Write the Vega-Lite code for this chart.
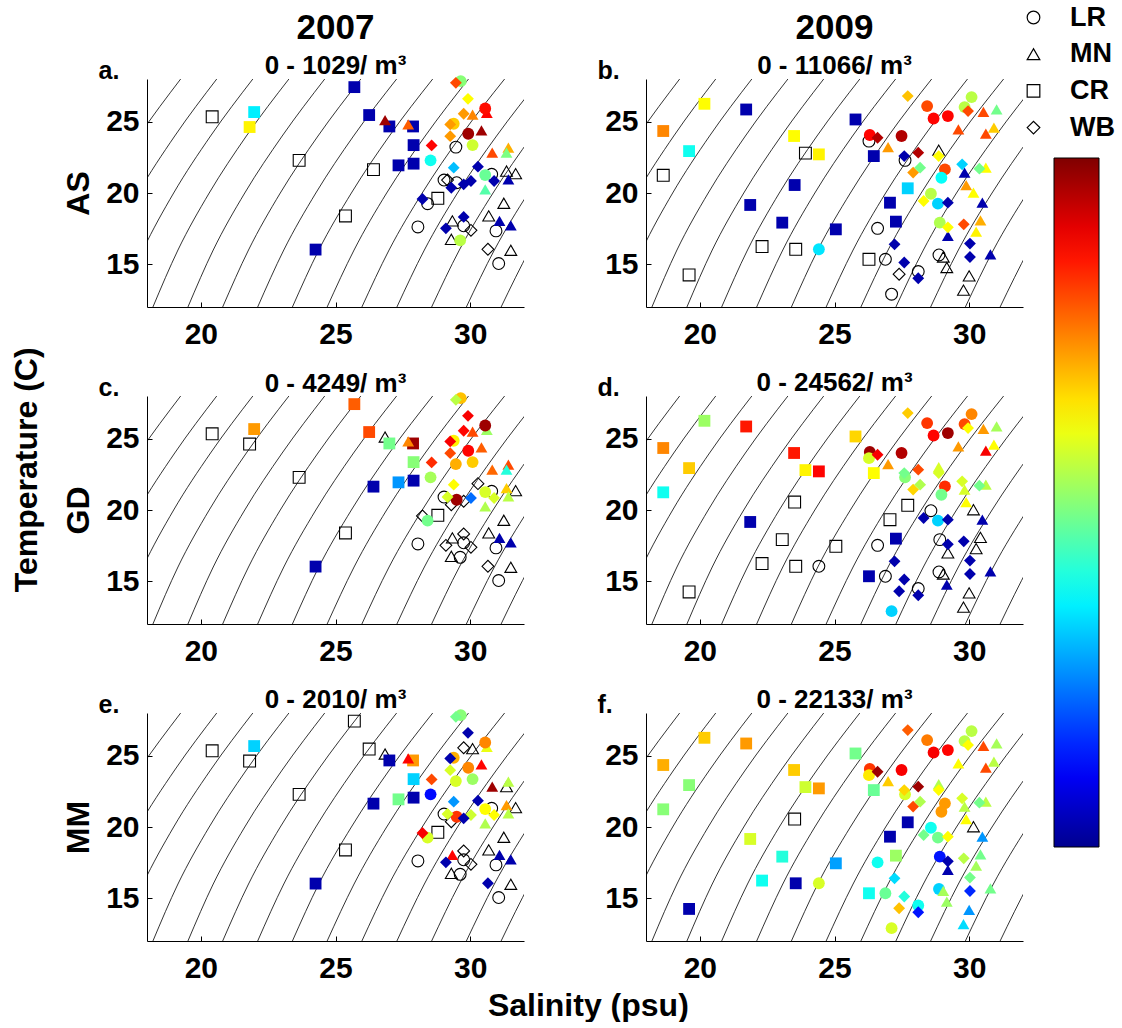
{
"$schema":"https://vega.github.io/schema/vega-lite/v6.json",
"background":"white",
"padding":{"left":11,"top":4,"right":0,"bottom":0},
"bounds":"flush",
"columns":2,
"spacing":{"row":89,"column":122},
"resolve":{"scale":{"color":"shared","shape":"shared"},"legend":{"color":"shared","shape":"shared"}},
"config":{
"font":"Liberation Sans",
"view":{"stroke":null},
"axis":{"grid":false,"labelFontSize":30,"labelFontWeight":"bold","labelColor":"black","domainColor":"black","domainWidth":1,"tickColor":"black","tickSize":-5,"tickWidth":1,"titleFontSize":32,"titleFontWeight":"bold","titleColor":"black","labelFlush":false,"labelOverlap":false},
"axisX":{"labelPadding":17},
"axisY":{"labelPadding":13,"titlePadding":10},
"title":{"fontSize":35,"fontWeight":"bold","color":"black","subtitleFontSize":26,"subtitleFontWeight":"bold","subtitleColor":"black","subtitlePadding":7,"offset":-19.5,"anchor":"middle","frame":"group"},
"legend":{"padding":0}
},
"datasets":{
"iso":[
{"lev":10.6,"S":14.34,"T":12},{"lev":10.6,"S":15.23,"T":16},{"lev":10.6,"S":16.35,"T":20},{"lev":10.6,"S":17.70,"T":24},{"lev":10.6,"S":19.25,"T":28},
{"lev":11.6,"S":15.63,"T":12},{"lev":11.6,"S":16.54,"T":16},{"lev":11.6,"S":17.67,"T":20},{"lev":11.6,"S":19.03,"T":24},{"lev":11.6,"S":20.59,"T":28},
{"lev":12.6,"S":16.93,"T":12},{"lev":12.6,"S":17.85,"T":16},{"lev":12.6,"S":18.99,"T":20},{"lev":12.6,"S":20.36,"T":24},{"lev":12.6,"S":21.93,"T":28},
{"lev":13.6,"S":18.22,"T":12},{"lev":13.6,"S":19.15,"T":16},{"lev":13.6,"S":20.31,"T":20},{"lev":13.6,"S":21.69,"T":24},{"lev":13.6,"S":23.27,"T":28},
{"lev":14.6,"S":19.52,"T":12},{"lev":14.6,"S":20.46,"T":16},{"lev":14.6,"S":21.63,"T":20},{"lev":14.6,"S":23.02,"T":24},{"lev":14.6,"S":24.60,"T":28},
{"lev":15.6,"S":20.81,"T":12},{"lev":15.6,"S":21.77,"T":16},{"lev":15.6,"S":22.95,"T":20},{"lev":15.6,"S":24.35,"T":24},{"lev":15.6,"S":25.94,"T":28},
{"lev":16.6,"S":22.11,"T":12},{"lev":16.6,"S":23.08,"T":16},{"lev":16.6,"S":24.27,"T":20},{"lev":16.6,"S":25.67,"T":24},{"lev":16.6,"S":27.27,"T":28},
{"lev":17.6,"S":23.40,"T":12},{"lev":17.6,"S":24.38,"T":16},{"lev":17.6,"S":25.59,"T":20},{"lev":17.6,"S":27.00,"T":24},{"lev":17.6,"S":28.61,"T":28},
{"lev":18.6,"S":24.69,"T":12},{"lev":18.6,"S":25.69,"T":16},{"lev":18.6,"S":26.90,"T":20},{"lev":18.6,"S":28.33,"T":24},{"lev":18.6,"S":29.94,"T":28},
{"lev":19.6,"S":25.98,"T":12},{"lev":19.6,"S":26.99,"T":16},{"lev":19.6,"S":28.22,"T":20},{"lev":19.6,"S":29.65,"T":24},{"lev":19.6,"S":31.28,"T":28},
{"lev":20.6,"S":27.28,"T":12},{"lev":20.6,"S":28.30,"T":16},{"lev":20.6,"S":29.53,"T":20},{"lev":20.6,"S":30.98,"T":24},{"lev":20.6,"S":32.61,"T":28},
{"lev":21.6,"S":28.57,"T":12},{"lev":21.6,"S":29.60,"T":16},{"lev":21.6,"S":30.85,"T":20},{"lev":21.6,"S":32.30,"T":24},{"lev":21.6,"S":33.94,"T":28},
{"lev":22.6,"S":29.86,"T":12},{"lev":22.6,"S":30.90,"T":16},{"lev":22.6,"S":32.16,"T":20},{"lev":22.6,"S":33.62,"T":24},{"lev":22.6,"S":35.27,"T":28},
{"lev":23.6,"S":31.15,"T":12},{"lev":23.6,"S":32.21,"T":16},{"lev":23.6,"S":33.47,"T":20},{"lev":23.6,"S":34.94,"T":24},{"lev":23.6,"S":36.60,"T":28}
],
"pts":[
{"yr":2007,"site":"CR","S":20.42,"T":25.35,"AS":0,"GD":0,"MM":0},
{"yr":2007,"site":"CR","S":21.98,"T":25.68,"AS":0.35,"GD":0.72,"MM":0.32},
{"yr":2007,"site":"CR","S":21.81,"T":24.63,"AS":0.63,"GD":0,"MM":0},
{"yr":2007,"site":"CR","S":23.65,"T":22.29,"AS":0,"GD":0,"MM":0},
{"yr":2007,"site":"CR","S":25.70,"T":27.43,"AS":0.03,"GD":0.78,"MM":0},
{"yr":2007,"site":"CR","S":26.25,"T":25.47,"AS":0.03,"GD":0.80,"MM":0},
{"yr":2007,"site":"CR","S":27.00,"T":24.67,"AS":0.03,"GD":0.48,"MM":0.03},
{"yr":2007,"site":"CR","S":27.88,"T":24.67,"AS":0.03,"GD":0.97,"MM":0.72},
{"yr":2007,"site":"CR","S":27.90,"T":23.36,"AS":0.03,"GD":0.50,"MM":0.32},
{"yr":2007,"site":"CR","S":26.41,"T":21.64,"AS":0,"GD":0.03,"MM":0.03},
{"yr":2007,"site":"CR","S":27.34,"T":21.94,"AS":0.03,"GD":0.26,"MM":0.48},
{"yr":2007,"site":"CR","S":27.90,"T":22.06,"AS":0.03,"GD":0.03,"MM":0.03},
{"yr":2007,"site":"CR","S":25.37,"T":18.39,"AS":0,"GD":0,"MM":0},
{"yr":2007,"site":"CR","S":24.26,"T":16.03,"AS":0.03,"GD":0.03,"MM":0.03},
{"yr":2007,"site":"CR","S":28.80,"T":19.63,"AS":0,"GD":0,"MM":0},
{"yr":2007,"site":"MN","S":26.84,"T":25.12,"AS":0.97,"GD":0,"MM":0},
{"yr":2007,"site":"MN","S":27.70,"T":24.81,"AS":0.78,"GD":0.74,"MM":0.87},
{"yr":2007,"site":"MN","S":30.62,"T":25.63,"AS":0.87,"GD":0.52,"MM":0.60},
{"yr":2007,"site":"MN","S":30.42,"T":24.39,"AS":0.97,"GD":0.78,"MM":0.87},
{"yr":2007,"site":"MN","S":30.82,"T":22.83,"AS":0.80,"GD":0.77,"MM":0.97},
{"yr":2007,"site":"MN","S":31.42,"T":23.18,"AS":0.70,"GD":0.80,"MM":0.55},
{"yr":2007,"site":"MN","S":31.35,"T":22.83,"AS":0.49,"GD":0.40,"MM":0},
{"yr":2007,"site":"MN","S":31.35,"T":21.54,"AS":0,"GD":0.67,"MM":0.72},
{"yr":2007,"site":"MN","S":31.69,"T":21.36,"AS":0,"GD":0,"MM":0},
{"yr":2007,"site":"MN","S":30.56,"T":20.26,"AS":0.45,"GD":0.54,"MM":0.54},
{"yr":2007,"site":"MN","S":31.42,"T":20.96,"AS":0.03,"GD":0.55,"MM":0.55},
{"yr":2007,"site":"MN","S":31.25,"T":19.28,"AS":0,"GD":0,"MM":0},
{"yr":2007,"site":"MN","S":30.69,"T":18.39,"AS":0,"GD":0,"MM":0},
{"yr":2007,"site":"MN","S":31.09,"T":18.04,"AS":0.03,"GD":0.03,"MM":0.03},
{"yr":2007,"site":"MN","S":31.51,"T":17.73,"AS":0.03,"GD":0.03,"MM":0.03},
{"yr":2007,"site":"MN","S":29.34,"T":18.04,"AS":0,"GD":0,"MM":0.87},
{"yr":2007,"site":"MN","S":29.30,"T":16.75,"AS":0,"GD":0,"MM":0},
{"yr":2007,"site":"MN","S":31.51,"T":15.98,"AS":0,"GD":0,"MM":0},
{"yr":2007,"site":"MN","S":30.09,"T":25.50,"AS":0.74,"GD":0.80,"MM":0},
{"yr":2007,"site":"LR","S":29.65,"T":27.85,"AS":0.50,"GD":0.68,"MM":0.50},
{"yr":2007,"site":"LR","S":30.56,"T":25.93,"AS":0.86,"GD":0.97,"MM":0.74},
{"yr":2007,"site":"LR","S":29.39,"T":24.86,"AS":0.67,"GD":0.63,"MM":0.70},
{"yr":2007,"site":"LR","S":29.93,"T":24.16,"AS":0.97,"GD":0.87,"MM":0.74},
{"yr":2007,"site":"LR","S":30.09,"T":23.36,"AS":0.57,"GD":0.67,"MM":0.52},
{"yr":2007,"site":"LR","S":29.47,"T":23.22,"AS":0,"GD":0.70,"MM":0.58},
{"yr":2007,"site":"LR","S":28.53,"T":22.29,"AS":0.38,"GD":0.53,"MM":0.12},
{"yr":2007,"site":"LR","S":30.56,"T":21.26,"AS":0.47,"GD":0.58,"MM":0.62},
{"yr":2007,"site":"LR","S":30.80,"T":21.31,"AS":0,"GD":0,"MM":0},
{"yr":2007,"site":"LR","S":29.03,"T":20.91,"AS":0,"GD":0,"MM":0},
{"yr":2007,"site":"LR","S":29.50,"T":20.72,"AS":0,"GD":0.97,"MM":0.82},
{"yr":2007,"site":"LR","S":28.42,"T":19.25,"AS":0,"GD":0.48,"MM":0.58},
{"yr":2007,"site":"LR","S":28.06,"T":17.62,"AS":0,"GD":0,"MM":0},
{"yr":2007,"site":"LR","S":29.63,"T":16.68,"AS":0.55,"GD":0,"MM":0},
{"yr":2007,"site":"LR","S":30.96,"T":17.34,"AS":0,"GD":0,"MM":0},
{"yr":2007,"site":"LR","S":31.06,"T":15.05,"AS":0,"GD":0,"MM":0},
{"yr":2007,"site":"LR","S":29.76,"T":17.70,"AS":0,"GD":0,"MM":0},
{"yr":2007,"site":"WB","S":29.47,"T":27.73,"AS":0.80,"GD":0.55,"MM":0.48},
{"yr":2007,"site":"WB","S":29.92,"T":26.61,"AS":0.62,"GD":0.88,"MM":0.03},
{"yr":2007,"site":"WB","S":29.76,"T":25.56,"AS":0.72,"GD":0.87,"MM":0},
{"yr":2007,"site":"WB","S":29.26,"T":23.99,"AS":0.72,"GD":0.80,"MM":0.58},
{"yr":2007,"site":"WB","S":29.26,"T":24.81,"AS":0.72,"GD":0.88,"MM":0.03},
{"yr":2007,"site":"WB","S":28.57,"T":23.34,"AS":0.87,"GD":0.83,"MM":0.80},
{"yr":2007,"site":"WB","S":29.39,"T":21.78,"AS":0.30,"GD":0.62,"MM":0.26},
{"yr":2007,"site":"WB","S":30.29,"T":21.85,"AS":0.03,"GD":0,"MM":0.03},
{"yr":2007,"site":"WB","S":30.03,"T":20.84,"AS":0.03,"GD":0.22,"MM":0.57},
{"yr":2007,"site":"WB","S":29.76,"T":20.61,"AS":0.03,"GD":0,"MM":0.03},
{"yr":2007,"site":"WB","S":29.30,"T":20.37,"AS":0.03,"GD":0,"MM":0},
{"yr":2007,"site":"WB","S":29.16,"T":20.91,"AS":0,"GD":0.58,"MM":0.58},
{"yr":2007,"site":"WB","S":30.89,"T":20.84,"AS":0.03,"GD":0.58,"MM":0.62},
{"yr":2007,"site":"WB","S":28.23,"T":19.58,"AS":0.03,"GD":0,"MM":0.88},
{"yr":2007,"site":"WB","S":29.10,"T":17.52,"AS":0.03,"GD":0,"MM":0.03},
{"yr":2007,"site":"WB","S":29.76,"T":18.32,"AS":0.03,"GD":0,"MM":0},
{"yr":2007,"site":"WB","S":30.03,"T":17.38,"AS":0,"GD":0,"MM":0},
{"yr":2007,"site":"WB","S":30.66,"T":16.05,"AS":0,"GD":0,"MM":0.03},
{"yr":2009,"site":"CR","S":18.64,"T":24.35,"AS":0.74,"GD":0.74,"MM":0.70},
{"yr":2009,"site":"CR","S":19.60,"T":22.94,"AS":0.38,"GD":0.67,"MM":0.50},
{"yr":2009,"site":"CR","S":18.64,"T":21.24,"AS":0,"GD":0.38,"MM":0.50},
{"yr":2009,"site":"CR","S":20.17,"T":26.26,"AS":0.62,"GD":0.52,"MM":0.67},
{"yr":2009,"site":"CR","S":19.60,"T":14.25,"AS":0,"GD":0,"MM":0.03},
{"yr":2009,"site":"CR","S":21.72,"T":25.86,"AS":0.03,"GD":0.85,"MM":0.72},
{"yr":2009,"site":"CR","S":21.87,"T":19.16,"AS":0.03,"GD":0.03,"MM":0.58},
{"yr":2009,"site":"CR","S":23.50,"T":24.00,"AS":0.62,"GD":0.85,"MM":0.67},
{"yr":2009,"site":"CR","S":23.92,"T":22.80,"AS":0,"GD":0.63,"MM":0.57},
{"yr":2009,"site":"CR","S":24.42,"T":22.71,"AS":0.63,"GD":0.87,"MM":0.72},
{"yr":2009,"site":"CR","S":23.52,"T":20.56,"AS":0.03,"GD":0,"MM":0},
{"yr":2009,"site":"CR","S":23.06,"T":17.92,"AS":0.03,"GD":0,"MM":0.40},
{"yr":2009,"site":"CR","S":22.31,"T":16.24,"AS":0,"GD":0,"MM":0.38},
{"yr":2009,"site":"CR","S":23.56,"T":16.05,"AS":0,"GD":0,"MM":0.03},
{"yr":2009,"site":"CR","S":25.05,"T":17.45,"AS":0.03,"GD":0,"MM":0.27},
{"yr":2009,"site":"CR","S":25.78,"T":25.16,"AS":0.03,"GD":0.66,"MM":0.48},
{"yr":2009,"site":"CR","S":26.46,"T":22.59,"AS":0.03,"GD":0.62,"MM":0.47},
{"yr":2009,"site":"CR","S":27.72,"T":20.33,"AS":0.32,"GD":0,"MM":0.03},
{"yr":2009,"site":"CR","S":27.06,"T":19.32,"AS":0.03,"GD":0,"MM":0.03},
{"yr":2009,"site":"CR","S":27.28,"T":17.99,"AS":0.03,"GD":0.03,"MM":0.52},
{"yr":2009,"site":"CR","S":26.28,"T":15.35,"AS":0,"GD":0.03,"MM":0.38},
{"yr":2009,"site":"LR","S":26.31,"T":24.07,"AS":0.87,"GD":0.97,"MM":0.82},
{"yr":2009,"site":"LR","S":26.28,"T":23.64,"AS":0,"GD":0.58,"MM":0.64},
{"yr":2009,"site":"LR","S":27.49,"T":24.00,"AS":0.95,"GD":0.95,"MM":0.88},
{"yr":2009,"site":"LR","S":27.62,"T":22.29,"AS":0,"GD":0.50,"MM":0.58},
{"yr":2009,"site":"LR","S":28.44,"T":26.10,"AS":0.80,"GD":0.82,"MM":0.75},
{"yr":2009,"site":"LR","S":28.68,"T":25.23,"AS":0.87,"GD":0.87,"MM":0.88},
{"yr":2009,"site":"LR","S":29.21,"T":25.40,"AS":0.87,"GD":0.97,"MM":0.87},
{"yr":2009,"site":"LR","S":30.09,"T":26.73,"AS":0.55,"GD":0.74,"MM":0.55},
{"yr":2009,"site":"LR","S":29.83,"T":26.03,"AS":0.55,"GD":0.80,"MM":0.55},
{"yr":2009,"site":"LR","S":29.10,"T":21.66,"AS":0.80,"GD":0.83,"MM":0.72},
{"yr":2009,"site":"LR","S":28.97,"T":21.07,"AS":0.37,"GD":0.48,"MM":0.72},
{"yr":2009,"site":"LR","S":28.58,"T":19.95,"AS":0.55,"GD":0,"MM":0.38},
{"yr":2009,"site":"LR","S":28.84,"T":19.25,"AS":0.32,"GD":0.32,"MM":0.48},
{"yr":2009,"site":"LR","S":28.91,"T":17.92,"AS":0.54,"GD":0,"MM":0.13},
{"yr":2009,"site":"LR","S":26.60,"T":17.52,"AS":0,"GD":0,"MM":0.38},
{"yr":2009,"site":"LR","S":26.89,"T":15.35,"AS":0,"GD":0,"MM":0.47},
{"yr":2009,"site":"LR","S":27.12,"T":12.90,"AS":0,"GD":0.32,"MM":0.58},
{"yr":2009,"site":"LR","S":28.11,"T":14.49,"AS":0,"GD":0,"MM":0.38},
{"yr":2009,"site":"LR","S":28.88,"T":15.65,"AS":0,"GD":0,"MM":0.32},
{"yr":2009,"site":"LR","S":24.42,"T":16.05,"AS":0.34,"GD":0,"MM":0.58},
{"yr":2009,"site":"MN","S":26.99,"T":23.22,"AS":0.72,"GD":0.72,"MM":0.67},
{"yr":2009,"site":"MN","S":28.87,"T":23.01,"AS":0,"GD":0.58,"MM":0.54},
{"yr":2009,"site":"MN","S":29.60,"T":24.46,"AS":0.80,"GD":0.72,"MM":0.62},
{"yr":2009,"site":"MN","S":30.53,"T":25.70,"AS":0.80,"GD":0.72,"MM":0.80},
{"yr":2009,"site":"MN","S":31.02,"T":25.86,"AS":0.48,"GD":0.53,"MM":0.53},
{"yr":2009,"site":"MN","S":30.62,"T":24.16,"AS":0.80,"GD":0.88,"MM":0.80},
{"yr":2009,"site":"MN","S":30.92,"T":24.58,"AS":0.67,"GD":0.62,"MM":0.55},
{"yr":2009,"site":"MN","S":29.83,"T":21.43,"AS":0.03,"GD":0.58,"MM":0.55},
{"yr":2009,"site":"MN","S":29.89,"T":20.56,"AS":0.72,"GD":0.62,"MM":0.62},
{"yr":2009,"site":"MN","S":30.16,"T":20.02,"AS":0.62,"GD":0,"MM":0},
{"yr":2009,"site":"MN","S":30.62,"T":21.78,"AS":0.62,"GD":0.55,"MM":0.55},
{"yr":2009,"site":"MN","S":30.49,"T":19.32,"AS":0.03,"GD":0.03,"MM":0.26},
{"yr":2009,"site":"MN","S":30.42,"T":18.08,"AS":0.70,"GD":0,"MM":0.48},
{"yr":2009,"site":"MN","S":30.26,"T":17.29,"AS":0.63,"GD":0,"MM":0.53},
{"yr":2009,"site":"MN","S":29.21,"T":16.99,"AS":0.03,"GD":0,"MM":0.03},
{"yr":2009,"site":"MN","S":29.04,"T":15.51,"AS":0,"GD":0,"MM":0.53},
{"yr":2009,"site":"MN","S":29.17,"T":14.77,"AS":0,"GD":0.03,"MM":0.52},
{"yr":2009,"site":"MN","S":30.00,"T":14.18,"AS":0,"GD":0,"MM":0.26},
{"yr":2009,"site":"MN","S":29.79,"T":13.18,"AS":0,"GD":0,"MM":0.33},
{"yr":2009,"site":"MN","S":30.79,"T":15.70,"AS":0.03,"GD":0.03,"MM":0.48},
{"yr":2009,"site":"WB","S":27.72,"T":26.80,"AS":0.68,"GD":0.67,"MM":0.78},
{"yr":2009,"site":"WB","S":26.60,"T":23.88,"AS":0.95,"GD":0.88,"MM":0.97},
{"yr":2009,"site":"WB","S":28.11,"T":22.83,"AS":0.95,"GD":0.80,"MM":0.97},
{"yr":2009,"site":"WB","S":27.59,"T":22.59,"AS":0.03,"GD":0.48,"MM":0.66},
{"yr":2009,"site":"WB","S":27.92,"T":21.43,"AS":0.72,"GD":0.66,"MM":0.80},
{"yr":2009,"site":"WB","S":28.18,"T":21.78,"AS":0.48,"GD":0.54,"MM":0.54},
{"yr":2009,"site":"WB","S":28.87,"T":22.59,"AS":0.62,"GD":0.58,"MM":0.62},
{"yr":2009,"site":"WB","S":28.31,"T":19.44,"AS":0.62,"GD":0.03,"MM":0.48},
{"yr":2009,"site":"WB","S":29.21,"T":19.32,"AS":0.03,"GD":0.03,"MM":0.62},
{"yr":2009,"site":"WB","S":29.74,"T":22.01,"AS":0.32,"GD":0.58,"MM":0.58},
{"yr":2009,"site":"WB","S":29.96,"T":25.75,"AS":0.80,"GD":0.62,"MM":0.62},
{"yr":2009,"site":"WB","S":29.21,"T":17.59,"AS":0.62,"GD":0.03,"MM":0.03},
{"yr":2009,"site":"WB","S":29.80,"T":17.80,"AS":0.80,"GD":0.03,"MM":0.55},
{"yr":2009,"site":"WB","S":30.03,"T":16.45,"AS":0.03,"GD":0.03,"MM":0.48},
{"yr":2009,"site":"WB","S":30.03,"T":15.51,"AS":0.03,"GD":0.03,"MM":0.15},
{"yr":2009,"site":"WB","S":27.23,"T":16.40,"AS":0.03,"GD":0.03,"MM":0.33},
{"yr":2009,"site":"WB","S":27.59,"T":15.12,"AS":0.03,"GD":0.03,"MM":0.40},
{"yr":2009,"site":"WB","S":27.40,"T":14.30,"AS":0,"GD":0.03,"MM":0.68},
{"yr":2009,"site":"WB","S":28.11,"T":14.02,"AS":0.03,"GD":0.03,"MM":0.13},
{"yr":2009,"site":"WB","S":30.38,"T":21.71,"AS":0.48,"GD":0.48,"MM":0.48}
]
},
"concat":[
{"width":377,"height":228,
"title":{"text":"2007","subtitle":"0 - 1029/ m³"},
"layer":[
{"data":{"name":"iso"},"mark":{"type":"line","clip":true,"interpolate":"monotone","color":"black","strokeWidth":0.8},
"encoding":{"x":{"field":"S","type":"quantitative","scale":{"domain":[18,32],"nice":false,"zero":false},"axis":{"values":[20,25,30],"title":null}},"y":{"field":"T","type":"quantitative","scale":{"domain":[12,28],"nice":false,"zero":false},"axis":{"values":[15,20,25],"title":"AS"}},"detail":{"field":"lev","type":"nominal"}}},
{"data":{"name":"pts"},"transform":[{"filter":"datum.yr == 2007 && datum.AS == 0"}],"mark":{"type":"point","filled":false,"color":"black","strokeWidth":1.1,"opacity":1,"size":140},
"encoding":{"x":{"field":"S","type":"quantitative","scale":{"domain":[18,32],"nice":false,"zero":false},"axis":{"values":[20,25,30],"title":null}},"y":{"field":"T","type":"quantitative","scale":{"domain":[12,28],"nice":false,"zero":false},"axis":{"values":[15,20,25],"title":"AS"}},
"shape":{"field":"site","type":"nominal","scale":{"domain":["LR","MN","CR","WB"],"range":["circle","triangle-up","square","diamond"]},
"legend":{"orient":"none","legendX":873,"legendY":-75,"title":null,"labelFontSize":27,"labelFontWeight":"bold","labelColor":"black","symbolSize":160,"symbolStrokeWidth":1.2,"labelOffset":23,"rowPadding":8.7,"encode":{"symbols":{"update":{"fill":{"value":"white"},"stroke":{"value":"black"},"strokeWidth":{"value":1.2},"opacity":{"value":1}}}}}}}},
{"data":{"name":"pts"},"transform":[{"filter":"datum.yr == 2007 && datum.AS > 0"}],"mark":{"type":"point","filled":true,"opacity":1,"size":140},
"encoding":{"x":{"field":"S","type":"quantitative","scale":{"domain":[18,32],"nice":false,"zero":false},"axis":{"values":[20,25,30],"title":null}},"y":{"field":"T","type":"quantitative","scale":{"domain":[12,28],"nice":false,"zero":false},"axis":{"values":[15,20,25],"title":"AS"}},
"shape":{"field":"site","type":"nominal","scale":{"domain":["LR","MN","CR","WB"],"range":["circle","triangle-up","square","diamond"]}},
"color":{"field":"AS","type":"quantitative","scale":{"domain":[0,0.111,0.365,0.619,0.873,1],"range":["#00008f","#0000ff","#00ffff","#ffff00","#ff0000","#800000"],"interpolate":"rgb"},
"legend":{"orient":"none","legendX":907,"legendY":79,"title":null,"direction":"vertical","gradientLength":689,"gradientThickness":45,"labelOpacity":0,"labelExpr":"''","gradientStrokeColor":"black","gradientStrokeWidth":1}}}},
{"data":{"values":[{}]},"mark":{"type":"text","text":"a.","align":"left","baseline":"alphabetic","fontSize":25,"fontWeight":"bold","color":"black"},
"encoding":{"x":{"datum":16.2,"type":"quantitative","scale":{"domain":[18,32],"nice":false,"zero":false},"axis":{"values":[20,25,30],"title":null}},"y":{"datum":28,"type":"quantitative","scale":{"domain":[12,28],"nice":false,"zero":false},"axis":{"values":[15,20,25],"title":"AS"}}}}
]},
{"width":377,"height":228,
"title":{"text":"2009","subtitle":"0 - 11066/ m³"},
"layer":[
{"data":{"name":"iso"},"mark":{"type":"line","clip":true,"interpolate":"monotone","color":"black","strokeWidth":0.8},
"encoding":{"x":{"field":"S","type":"quantitative","scale":{"domain":[18,32],"nice":false,"zero":false},"axis":{"values":[20,25,30],"title":null}},"y":{"field":"T","type":"quantitative","scale":{"domain":[12,28],"nice":false,"zero":false},"axis":{"values":[15,20,25],"title":null}},"detail":{"field":"lev","type":"nominal"}}},
{"data":{"name":"pts"},"transform":[{"filter":"datum.yr == 2009 && datum.AS == 0"}],"mark":{"type":"point","filled":false,"color":"black","strokeWidth":1.1,"opacity":1,"size":140},
"encoding":{"x":{"field":"S","type":"quantitative","scale":{"domain":[18,32],"nice":false,"zero":false},"axis":{"values":[20,25,30],"title":null}},"y":{"field":"T","type":"quantitative","scale":{"domain":[12,28],"nice":false,"zero":false},"axis":{"values":[15,20,25],"title":null}},
"shape":{"field":"site","type":"nominal","scale":{"domain":["LR","MN","CR","WB"],"range":["circle","triangle-up","square","diamond"]}}}},
{"data":{"name":"pts"},"transform":[{"filter":"datum.yr == 2009 && datum.AS > 0"}],"mark":{"type":"point","filled":true,"opacity":1,"size":140},
"encoding":{"x":{"field":"S","type":"quantitative","scale":{"domain":[18,32],"nice":false,"zero":false},"axis":{"values":[20,25,30],"title":null}},"y":{"field":"T","type":"quantitative","scale":{"domain":[12,28],"nice":false,"zero":false},"axis":{"values":[15,20,25],"title":null}},
"shape":{"field":"site","type":"nominal","scale":{"domain":["LR","MN","CR","WB"],"range":["circle","triangle-up","square","diamond"]}},
"color":{"field":"AS","type":"quantitative","scale":{"domain":[0,0.111,0.365,0.619,0.873,1],"range":["#00008f","#0000ff","#00ffff","#ffff00","#ff0000","#800000"],"interpolate":"rgb"}}}},
{"data":{"values":[{}]},"mark":{"type":"text","text":"b.","align":"left","baseline":"alphabetic","fontSize":25,"fontWeight":"bold","color":"black"},
"encoding":{"x":{"datum":16.2,"type":"quantitative","scale":{"domain":[18,32],"nice":false,"zero":false},"axis":{"values":[20,25,30],"title":null}},"y":{"datum":28,"type":"quantitative","scale":{"domain":[12,28],"nice":false,"zero":false},"axis":{"values":[15,20,25],"title":null}}}}
]},
{"width":377,"height":228,
"title":{"text":"0 - 4249/ m³","fontSize":26,"offset":-49.5},
"layer":[
{"data":{"name":"iso"},"mark":{"type":"line","clip":true,"interpolate":"monotone","color":"black","strokeWidth":0.8},
"encoding":{"x":{"field":"S","type":"quantitative","scale":{"domain":[18,32],"nice":false,"zero":false},"axis":{"values":[20,25,30],"title":null}},"y":{"field":"T","type":"quantitative","scale":{"domain":[12,28],"nice":false,"zero":false},"axis":{"values":[15,20,25],"title":"GD"}},"detail":{"field":"lev","type":"nominal"}}},
{"data":{"name":"pts"},"transform":[{"filter":"datum.yr == 2007 && datum.GD == 0"}],"mark":{"type":"point","filled":false,"color":"black","strokeWidth":1.1,"opacity":1,"size":140},
"encoding":{"x":{"field":"S","type":"quantitative","scale":{"domain":[18,32],"nice":false,"zero":false},"axis":{"values":[20,25,30],"title":null}},"y":{"field":"T","type":"quantitative","scale":{"domain":[12,28],"nice":false,"zero":false},"axis":{"values":[15,20,25],"title":"GD"}},
"shape":{"field":"site","type":"nominal","scale":{"domain":["LR","MN","CR","WB"],"range":["circle","triangle-up","square","diamond"]}}}},
{"data":{"name":"pts"},"transform":[{"filter":"datum.yr == 2007 && datum.GD > 0"}],"mark":{"type":"point","filled":true,"opacity":1,"size":140},
"encoding":{"x":{"field":"S","type":"quantitative","scale":{"domain":[18,32],"nice":false,"zero":false},"axis":{"values":[20,25,30],"title":null}},"y":{"field":"T","type":"quantitative","scale":{"domain":[12,28],"nice":false,"zero":false},"axis":{"values":[15,20,25],"title":"GD"}},
"shape":{"field":"site","type":"nominal","scale":{"domain":["LR","MN","CR","WB"],"range":["circle","triangle-up","square","diamond"]}},
"color":{"field":"GD","type":"quantitative","scale":{"domain":[0,0.111,0.365,0.619,0.873,1],"range":["#00008f","#0000ff","#00ffff","#ffff00","#ff0000","#800000"],"interpolate":"rgb"}}}},
{"data":{"values":[{}]},"mark":{"type":"text","text":"c.","align":"left","baseline":"alphabetic","fontSize":25,"fontWeight":"bold","color":"black"},
"encoding":{"x":{"datum":16.2,"type":"quantitative","scale":{"domain":[18,32],"nice":false,"zero":false},"axis":{"values":[20,25,30],"title":null}},"y":{"datum":28,"type":"quantitative","scale":{"domain":[12,28],"nice":false,"zero":false},"axis":{"values":[15,20,25],"title":"GD"}}}},
{"data":{"values":[{}]},"mark":{"type":"text","text":"Temperature (C)","angle":270,"align":"center","baseline":"alphabetic","fontSize":32,"fontWeight":"bold","color":"black"},
"encoding":{"x":{"datum":13.92,"type":"quantitative","scale":{"domain":[18,32],"nice":false,"zero":false},"axis":{"values":[20,25,30],"title":null}},"y":{"datum":22.82,"type":"quantitative","scale":{"domain":[12,28],"nice":false,"zero":false},"axis":{"values":[15,20,25],"title":"GD"}}}}
]},
{"width":377,"height":228,
"title":{"text":"0 - 24562/ m³","fontSize":26},
"layer":[
{"data":{"name":"iso"},"mark":{"type":"line","clip":true,"interpolate":"monotone","color":"black","strokeWidth":0.8},
"encoding":{"x":{"field":"S","type":"quantitative","scale":{"domain":[18,32],"nice":false,"zero":false},"axis":{"values":[20,25,30],"title":null}},"y":{"field":"T","type":"quantitative","scale":{"domain":[12,28],"nice":false,"zero":false},"axis":{"values":[15,20,25],"title":null}},"detail":{"field":"lev","type":"nominal"}}},
{"data":{"name":"pts"},"transform":[{"filter":"datum.yr == 2009 && datum.GD == 0"}],"mark":{"type":"point","filled":false,"color":"black","strokeWidth":1.1,"opacity":1,"size":140},
"encoding":{"x":{"field":"S","type":"quantitative","scale":{"domain":[18,32],"nice":false,"zero":false},"axis":{"values":[20,25,30],"title":null}},"y":{"field":"T","type":"quantitative","scale":{"domain":[12,28],"nice":false,"zero":false},"axis":{"values":[15,20,25],"title":null}},
"shape":{"field":"site","type":"nominal","scale":{"domain":["LR","MN","CR","WB"],"range":["circle","triangle-up","square","diamond"]}}}},
{"data":{"name":"pts"},"transform":[{"filter":"datum.yr == 2009 && datum.GD > 0"}],"mark":{"type":"point","filled":true,"opacity":1,"size":140},
"encoding":{"x":{"field":"S","type":"quantitative","scale":{"domain":[18,32],"nice":false,"zero":false},"axis":{"values":[20,25,30],"title":null}},"y":{"field":"T","type":"quantitative","scale":{"domain":[12,28],"nice":false,"zero":false},"axis":{"values":[15,20,25],"title":null}},
"shape":{"field":"site","type":"nominal","scale":{"domain":["LR","MN","CR","WB"],"range":["circle","triangle-up","square","diamond"]}},
"color":{"field":"GD","type":"quantitative","scale":{"domain":[0,0.111,0.365,0.619,0.873,1],"range":["#00008f","#0000ff","#00ffff","#ffff00","#ff0000","#800000"],"interpolate":"rgb"}}}},
{"data":{"values":[{}]},"mark":{"type":"text","text":"d.","align":"left","baseline":"alphabetic","fontSize":25,"fontWeight":"bold","color":"black"},
"encoding":{"x":{"datum":16.2,"type":"quantitative","scale":{"domain":[18,32],"nice":false,"zero":false},"axis":{"values":[20,25,30],"title":null}},"y":{"datum":28,"type":"quantitative","scale":{"domain":[12,28],"nice":false,"zero":false},"axis":{"values":[15,20,25],"title":null}}}}
]},
{"width":377,"height":228,
"title":{"text":"0 - 2010/ m³","fontSize":26},
"layer":[
{"data":{"name":"iso"},"mark":{"type":"line","clip":true,"interpolate":"monotone","color":"black","strokeWidth":0.8},
"encoding":{"x":{"field":"S","type":"quantitative","scale":{"domain":[18,32],"nice":false,"zero":false},"axis":{"values":[20,25,30],"title":null}},"y":{"field":"T","type":"quantitative","scale":{"domain":[12,28],"nice":false,"zero":false},"axis":{"values":[15,20,25],"title":"MM"}},"detail":{"field":"lev","type":"nominal"}}},
{"data":{"name":"pts"},"transform":[{"filter":"datum.yr == 2007 && datum.MM == 0"}],"mark":{"type":"point","filled":false,"color":"black","strokeWidth":1.1,"opacity":1,"size":140},
"encoding":{"x":{"field":"S","type":"quantitative","scale":{"domain":[18,32],"nice":false,"zero":false},"axis":{"values":[20,25,30],"title":null}},"y":{"field":"T","type":"quantitative","scale":{"domain":[12,28],"nice":false,"zero":false},"axis":{"values":[15,20,25],"title":"MM"}},
"shape":{"field":"site","type":"nominal","scale":{"domain":["LR","MN","CR","WB"],"range":["circle","triangle-up","square","diamond"]}}}},
{"data":{"name":"pts"},"transform":[{"filter":"datum.yr == 2007 && datum.MM > 0"}],"mark":{"type":"point","filled":true,"opacity":1,"size":140},
"encoding":{"x":{"field":"S","type":"quantitative","scale":{"domain":[18,32],"nice":false,"zero":false},"axis":{"values":[20,25,30],"title":null}},"y":{"field":"T","type":"quantitative","scale":{"domain":[12,28],"nice":false,"zero":false},"axis":{"values":[15,20,25],"title":"MM"}},
"shape":{"field":"site","type":"nominal","scale":{"domain":["LR","MN","CR","WB"],"range":["circle","triangle-up","square","diamond"]}},
"color":{"field":"MM","type":"quantitative","scale":{"domain":[0,0.111,0.365,0.619,0.873,1],"range":["#00008f","#0000ff","#00ffff","#ffff00","#ff0000","#800000"],"interpolate":"rgb"}}}},
{"data":{"values":[{}]},"mark":{"type":"text","text":"e.","align":"left","baseline":"alphabetic","fontSize":25,"fontWeight":"bold","color":"black"},
"encoding":{"x":{"datum":16.2,"type":"quantitative","scale":{"domain":[18,32],"nice":false,"zero":false},"axis":{"values":[20,25,30],"title":null}},"y":{"datum":28,"type":"quantitative","scale":{"domain":[12,28],"nice":false,"zero":false},"axis":{"values":[15,20,25],"title":"MM"}}}},
{"data":{"values":[{}]},"mark":{"type":"text","text":"Salinity (psu)","align":"center","baseline":"alphabetic","fontSize":32,"fontWeight":"bold","color":"black"},
"encoding":{"x":{"datum":34.39,"type":"quantitative","scale":{"domain":[18,32],"nice":false,"zero":false},"axis":{"values":[20,25,30],"title":null}},"y":{"datum":6.75,"type":"quantitative","scale":{"domain":[12,28],"nice":false,"zero":false},"axis":{"values":[15,20,25],"title":"MM"}}}}
]},
{"width":377,"height":228,
"title":{"text":"0 - 22133/ m³","fontSize":26},
"layer":[
{"data":{"name":"iso"},"mark":{"type":"line","clip":true,"interpolate":"monotone","color":"black","strokeWidth":0.8},
"encoding":{"x":{"field":"S","type":"quantitative","scale":{"domain":[18,32],"nice":false,"zero":false},"axis":{"values":[20,25,30],"title":null}},"y":{"field":"T","type":"quantitative","scale":{"domain":[12,28],"nice":false,"zero":false},"axis":{"values":[15,20,25],"title":null}},"detail":{"field":"lev","type":"nominal"}}},
{"data":{"name":"pts"},"transform":[{"filter":"datum.yr == 2009 && datum.MM == 0"}],"mark":{"type":"point","filled":false,"color":"black","strokeWidth":1.1,"opacity":1,"size":140},
"encoding":{"x":{"field":"S","type":"quantitative","scale":{"domain":[18,32],"nice":false,"zero":false},"axis":{"values":[20,25,30],"title":null}},"y":{"field":"T","type":"quantitative","scale":{"domain":[12,28],"nice":false,"zero":false},"axis":{"values":[15,20,25],"title":null}},
"shape":{"field":"site","type":"nominal","scale":{"domain":["LR","MN","CR","WB"],"range":["circle","triangle-up","square","diamond"]}}}},
{"data":{"name":"pts"},"transform":[{"filter":"datum.yr == 2009 && datum.MM > 0"}],"mark":{"type":"point","filled":true,"opacity":1,"size":140},
"encoding":{"x":{"field":"S","type":"quantitative","scale":{"domain":[18,32],"nice":false,"zero":false},"axis":{"values":[20,25,30],"title":null}},"y":{"field":"T","type":"quantitative","scale":{"domain":[12,28],"nice":false,"zero":false},"axis":{"values":[15,20,25],"title":null}},
"shape":{"field":"site","type":"nominal","scale":{"domain":["LR","MN","CR","WB"],"range":["circle","triangle-up","square","diamond"]}},
"color":{"field":"MM","type":"quantitative","scale":{"domain":[0,0.111,0.365,0.619,0.873,1],"range":["#00008f","#0000ff","#00ffff","#ffff00","#ff0000","#800000"],"interpolate":"rgb"}}}},
{"data":{"values":[{}]},"mark":{"type":"text","text":"f.","align":"left","baseline":"alphabetic","fontSize":25,"fontWeight":"bold","color":"black"},
"encoding":{"x":{"datum":16.2,"type":"quantitative","scale":{"domain":[18,32],"nice":false,"zero":false},"axis":{"values":[20,25,30],"title":null}},"y":{"datum":28,"type":"quantitative","scale":{"domain":[12,28],"nice":false,"zero":false},"axis":{"values":[15,20,25],"title":null}}}}
]}
]
}
